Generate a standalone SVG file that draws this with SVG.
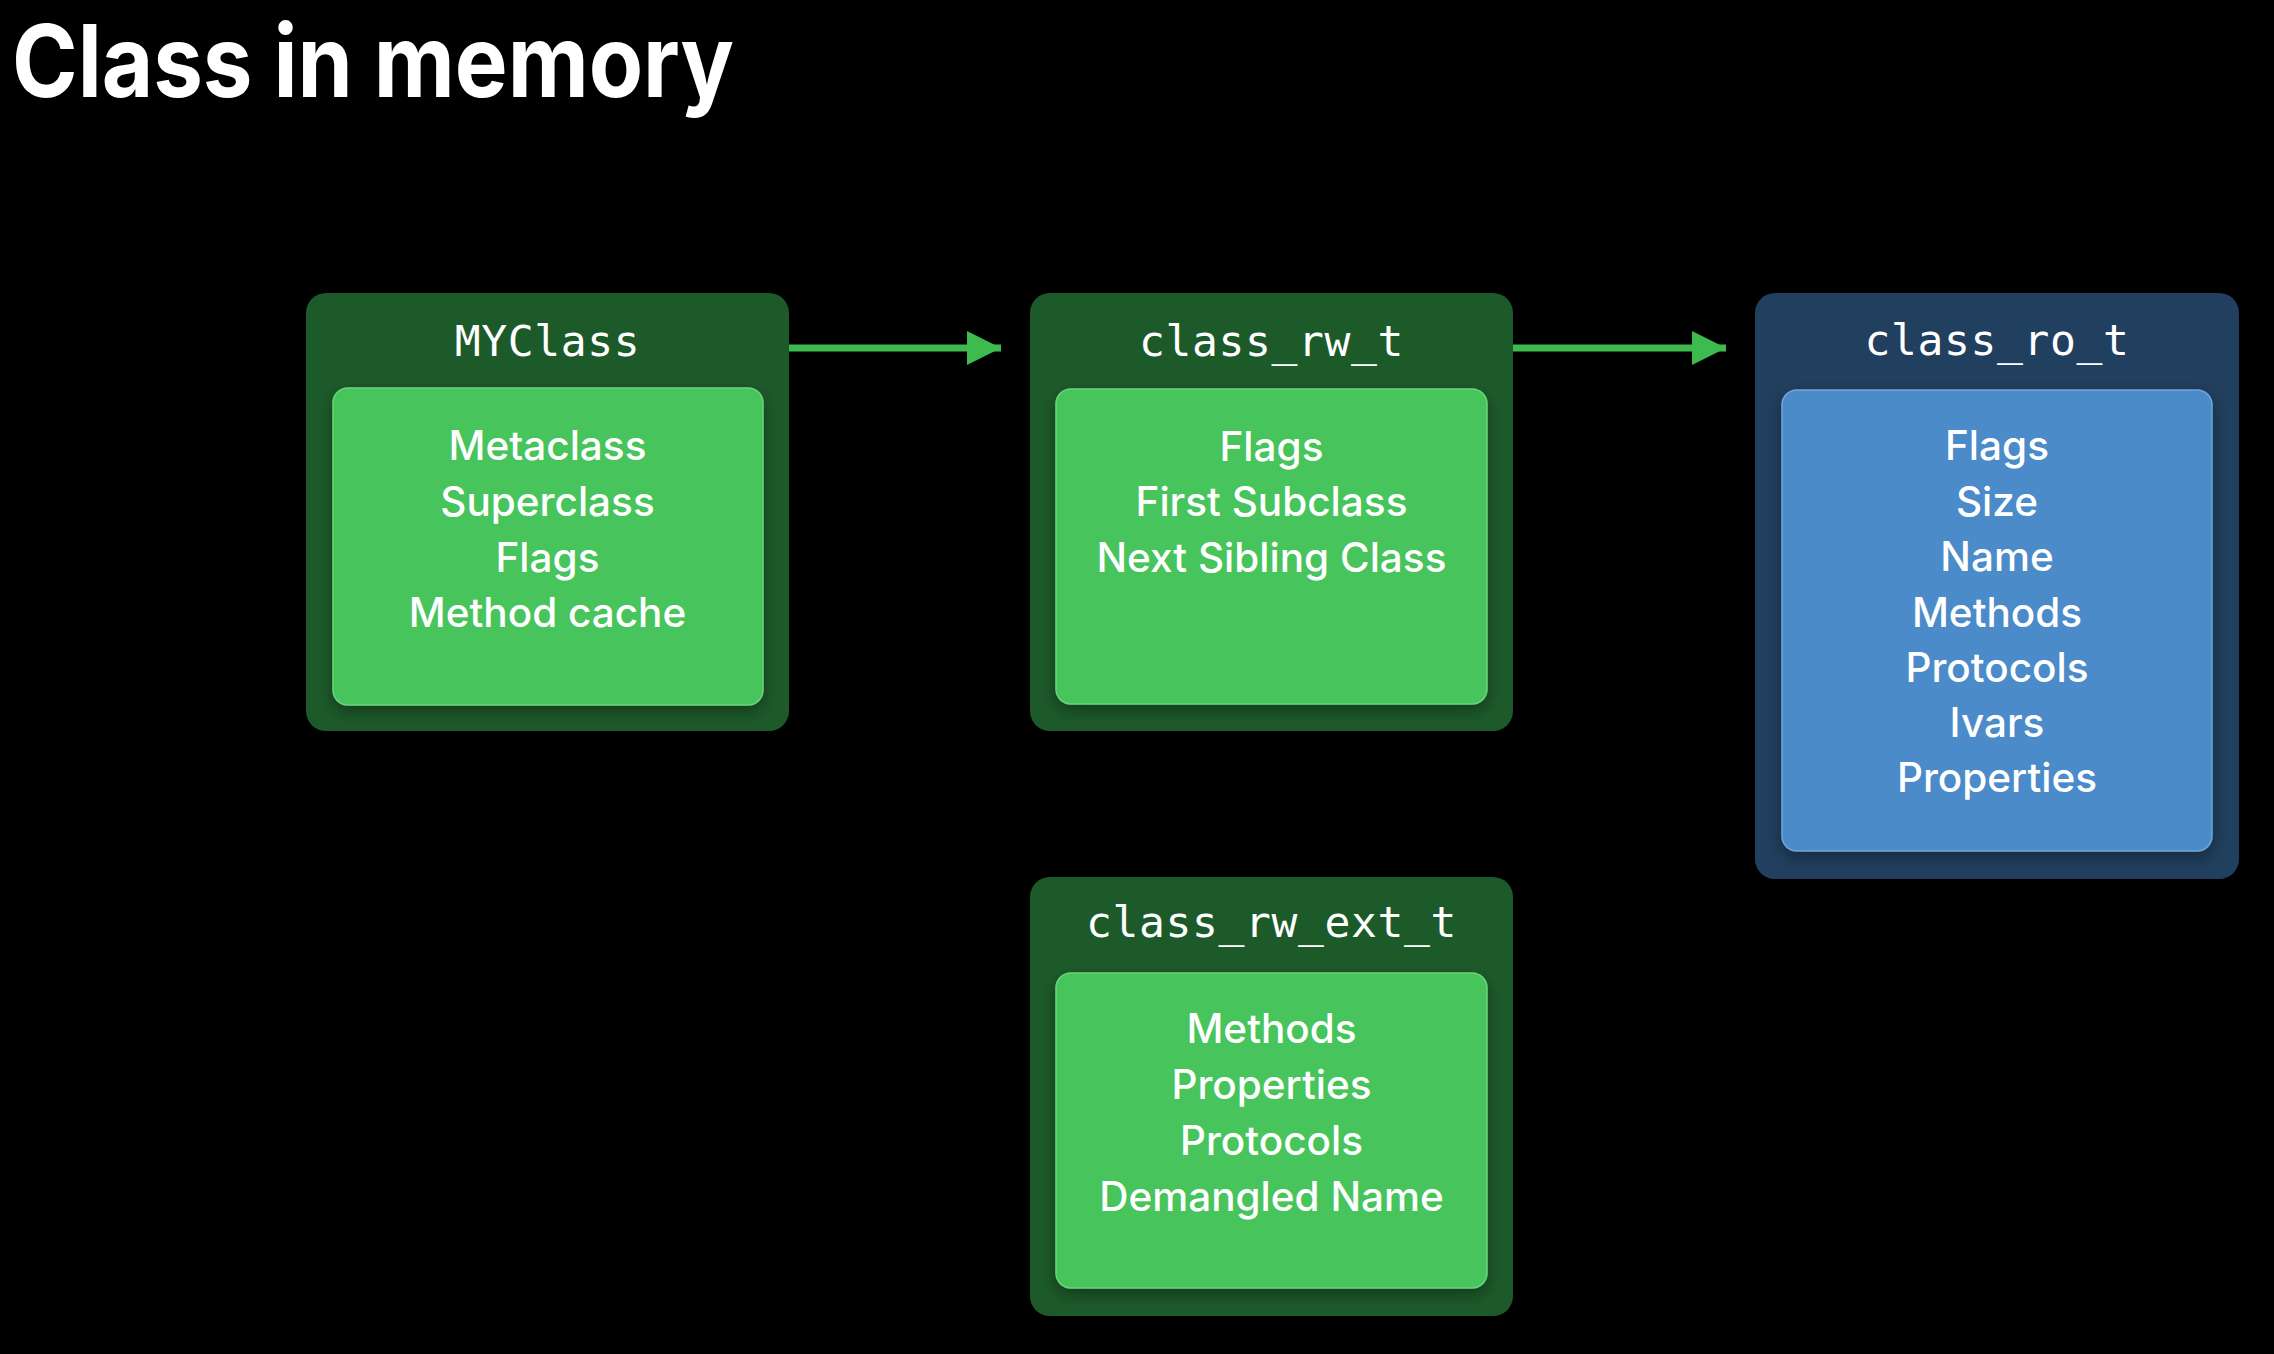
<svg xmlns="http://www.w3.org/2000/svg" width="2274" height="1354" viewBox="0 0 2274 1354">
  <style>
    .title { font-family: Inter, "Liberation Sans", sans-serif; font-weight: 700; font-size: 100px; fill: #ffffff; }
    .outer-g { fill: #1d5a2a; }
    .inner-g { fill: #46c45b; stroke: #6ad47b; stroke-width: 1.5; }
    .outer-b { fill: #213f5e; }
    .inner-b { fill: #4b8bc9; stroke: #6fa5d8; stroke-width: 1.5; }
    .head { font-family: "DejaVu Sans Mono", "Liberation Mono", monospace; font-size: 43px; letter-spacing: 0.6px; fill: #ffffff; text-anchor: middle; }
    .item { font-family: Inter, "Liberation Sans", sans-serif; font-weight: 500; font-size: 40.5px; fill: #ffffff; text-anchor: middle; }
    .conn { stroke: #3dbb4f; stroke-width: 7; fill: none; }
  </style>
  <defs>
    <filter id="sh" x="-10%" y="-10%" width="120%" height="125%">
      <feDropShadow dx="0" dy="6" stdDeviation="8" flood-color="#000000" flood-opacity="0.35"/>
    </filter>
    <marker id="arr" viewBox="0 0 34 34" refX="34" refY="17" markerWidth="34" markerHeight="34" markerUnits="userSpaceOnUse" orient="auto">
      <path d="M0,0 L34,17 L0,34 Z" fill="#3dbb4f"/>
    </marker>
  </defs>
  <rect width="2274" height="1354" fill="#000000"/>
  <text class="title" x="12" y="97" textLength="722" lengthAdjust="spacingAndGlyphs">Class in memory</text>

  <g id="connectors">
    <line class="conn" x1="789" y1="348" x2="1001" y2="348" marker-end="url(#arr)"/>
    <line class="conn" x1="1513" y1="348" x2="1726" y2="348" marker-end="url(#arr)"/>
  </g>

  <g id="myclass">
    <rect class="outer-g" x="306" y="293" width="483" height="438" rx="20"/>
    <text class="head" x="547.5" y="356">MYClass</text>
    <rect class="inner-g" x="333" y="388" width="430" height="317" rx="15" filter="url(#sh)"/>
    <text class="item" x="547.5" y="460">Metaclass</text>
    <text class="item" x="547.5" y="516">Superclass</text>
    <text class="item" x="547.5" y="572">Flags</text>
    <text class="item" x="547.5" y="627">Method cache</text>
  </g>

  <g id="class_rw_t">
    <rect class="outer-g" x="1030" y="293" width="483" height="438" rx="20"/>
    <text class="head" x="1271.5" y="356">class_rw_t</text>
    <rect class="inner-g" x="1056" y="389" width="431" height="315" rx="15" filter="url(#sh)"/>
    <text class="item" x="1271.5" y="461">Flags</text>
    <text class="item" x="1271.5" y="516">First Subclass</text>
    <text class="item" x="1271.5" y="572">Next Sibling Class</text>
  </g>

  <g id="class_ro_t">
    <rect class="outer-b" x="1755" y="293" width="484" height="586" rx="20"/>
    <text class="head" x="1997" y="355">class_ro_t</text>
    <rect class="inner-b" x="1782" y="390" width="430" height="461" rx="15" filter="url(#sh)"/>
    <text class="item" x="1997" y="460">Flags</text>
    <text class="item" x="1997" y="516">Size</text>
    <text class="item" x="1997" y="571">Name</text>
    <text class="item" x="1997" y="627">Methods</text>
    <text class="item" x="1997" y="682">Protocols</text>
    <text class="item" x="1997" y="737">Ivars</text>
    <text class="item" x="1997" y="792">Properties</text>
  </g>

  <g id="class_rw_ext_t">
    <rect class="outer-g" x="1030" y="877" width="483" height="439" rx="20"/>
    <text class="head" x="1271.5" y="937">class_rw_ext_t</text>
    <rect class="inner-g" x="1056" y="973" width="431" height="315" rx="15" filter="url(#sh)"/>
    <text class="item" x="1271.5" y="1043">Methods</text>
    <text class="item" x="1271.5" y="1099">Properties</text>
    <text class="item" x="1271.5" y="1155">Protocols</text>
    <text class="item" x="1271.5" y="1211">Demangled Name</text>
  </g>
</svg>
